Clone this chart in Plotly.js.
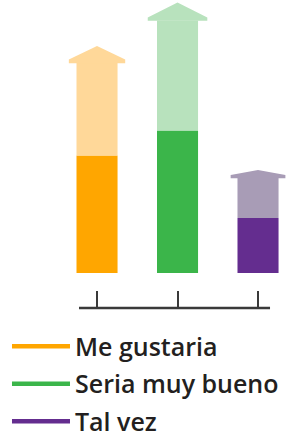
<!DOCTYPE html>
<html>
<head>
<meta charset="utf-8">
<script src="https://cdn.plot.ly/plotly-3.0.1.min.js"></script>
<style>html,body{margin:0;padding:0;background:#fff;}#chart{width:287px;height:438px;}</style>
</head>
<body>
<div id="chart"></div>
<script>
// ---- data ----
var categories = ["Me gustaria", "Seria muy bueno", "Tal vez"];
var solidValues = [47, 57, 22];      // darker part of each bar
var arrowValues = [84, 101, 38];     // top of the lighter arrow body
// ---- styles ----
var solidColors = ["#FFA600", "#3BB54A", "#642D8F"];
var lightColors = ["#FFD899", "#B8E2BD", "#A89CB6"];
var headHeights = [6.8, 7.2, 3.2];   // arrow head height (y units)
var headShoulders = [1.4, 1.2, 1.2]; // short vertical edge of the head
var headHalfWidths = [0.35, 0.37, 0.34];
var barWidth = 0.51;
var axisSpan = [-0.224, 2.149];

var idx = categories.map(function (c, i) { return i; });
var traces = [];

categories.forEach(function (cat, i) {
  traces.push({
    type: "bar", x: [idx[i]], y: [solidValues[i]], width: barWidth,
    marker: { color: solidColors[i], line: { width: 0 } },
    showlegend: false, hoverinfo: "skip"
  });
  traces.push({
    type: "bar", x: [idx[i]], y: [arrowValues[i] - solidValues[i]], base: [solidValues[i]],
    width: barWidth, marker: { color: lightColors[i], line: { width: 0 } },
    showlegend: false, hoverinfo: "skip"
  });
  var t = arrowValues[i], h = headHeights[i], s = headShoulders[i], hw = headHalfWidths[i];
  traces.push({
    type: "scatter", mode: "lines", fill: "toself", fillcolor: lightColors[i],
    line: { width: 0, color: lightColors[i] },
    x: [idx[i] - hw, idx[i] - hw, idx[i], idx[i] + hw, idx[i] + hw, idx[i] - hw],
    y: [t - 0.1, t + s, t + h, t + s, t - 0.1, t - 0.1],
    showlegend: false, hoverinfo: "skip"
  });
});

categories.forEach(function (cat, i) {
  traces.push({
    type: "scatter", mode: "lines", x: [null], y: [null], name: cat,
    legendgroup: "g" + i,
    line: { color: solidColors[i], width: 4.5 }
  });
});

var layout = {
  width: 287, height: 438,
  margin: { l: 60, r: 0, t: 0, b: 130, autoexpand: false },
  paper_bgcolor: "#fff", plot_bgcolor: "#fff",
  barmode: "overlay",
  showlegend: true,
  xaxis: {
    range: [-0.46, 2.36], tickvals: idx, ticktext: categories, showticklabels: false,
    showgrid: false, zeroline: false, showline: false,
    ticks: "inside", ticklen: 17, tickwidth: 2, tickcolor: "#3a3a3a", fixedrange: true
  },
  yaxis: { range: [-14, 109.2], visible: false, showgrid: false, zeroline: false, fixedrange: true },
  shapes: [{
    type: "line", xref: "x", yref: "paper", x0: axisSpan[0], x1: axisSpan[1], y0: 0, y1: 0,
    line: { color: "#3a3a3a", width: 2.5 }
  }],
  legend: {
    x: -0.2335, xanchor: "left", y: -0.05, yanchor: "top",
    font: { family: "Open Sans, sans-serif", size: 25, color: "#231F20", weight: 600 },
    itemwidth: 58, traceorder: "grouped", tracegroupgap: 2,
    bgcolor: "rgba(0,0,0,0)"
  }
};

Plotly.newPlot("chart", traces, layout, { displayModeBar: false, staticPlot: true });
</script>
</body>
</html>
